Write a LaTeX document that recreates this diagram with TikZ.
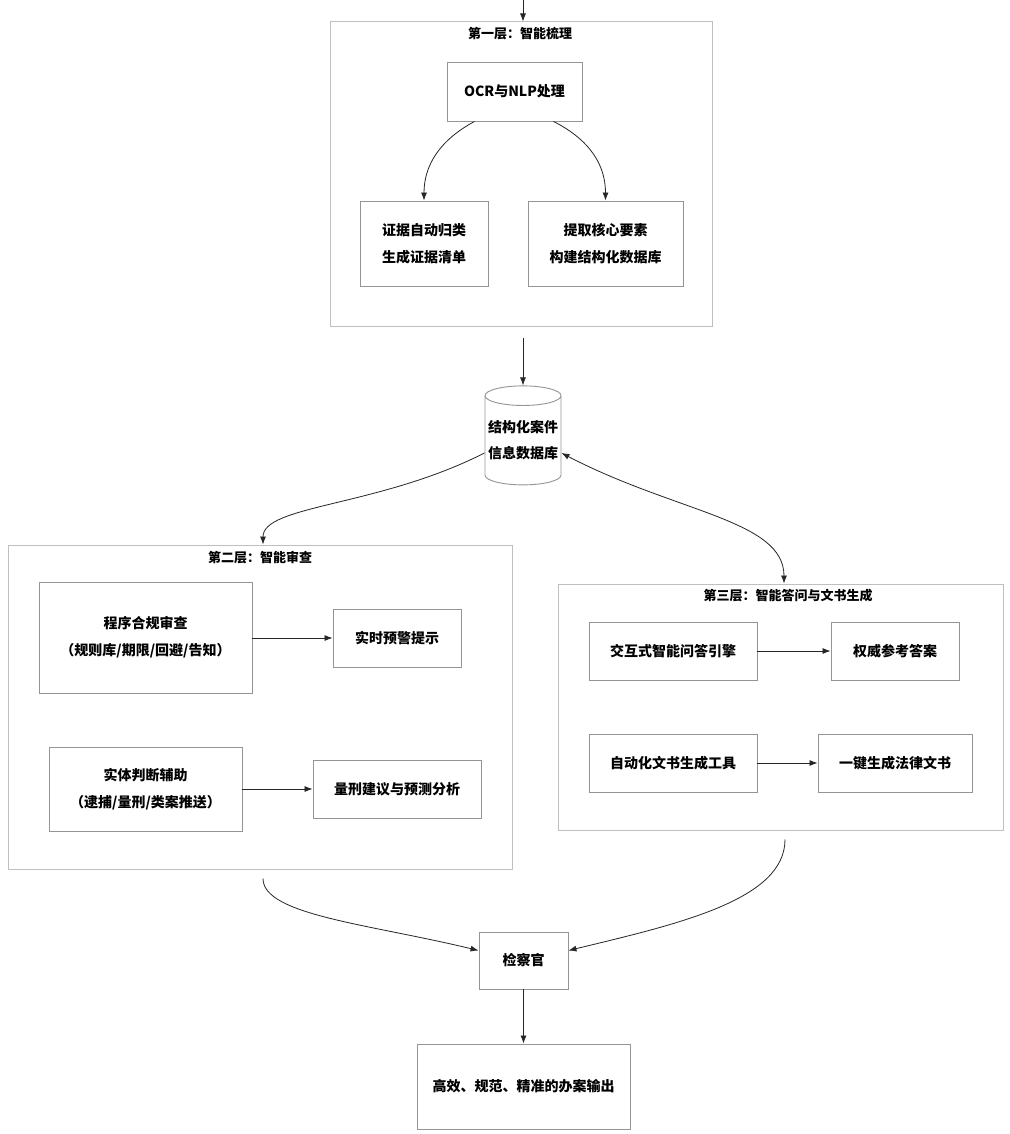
\documentclass[tikz,border=0pt]{standalone}
\usepackage{fontspec}
\setmainfont{Noto Sans CJK SC}
\usetikzlibrary{shapes.geometric,arrows.meta,calc}
\begin{document}
\begin{tikzpicture}[x=1pt,y=-1pt,
  framebox/.style={draw=black!25, line width=1pt, inner sep=0pt},
  ttl/.style={font=\bfseries\fontsize{13}{16}\selectfont, inner sep=0pt},
  box/.style={draw=black!42, line width=0.9pt, fill=white, align=center,
    font=\bfseries\fontsize{14}{27}\selectfont, inner sep=0pt},
  cyl/.style={cylinder, shape border rotate=90, draw=black!42, line width=0.9pt,
    aspect=0.28, minimum width=76pt, minimum height=99pt, inner sep=0pt,
    align=center, font=\bfseries\fontsize{14}{26}\selectfont},
  arr/.style={draw=black!85, line width=0.8pt, -{Latex[length=8pt,width=6pt]}},
  darr/.style={draw=black!85, line width=0.8pt, {Latex[length=8pt,width=6pt]}-{Latex[length=8pt,width=6pt]}}
]
\fill[white] (0,0) rectangle (1009,1134);
\useasboundingbox (0,0) rectangle (1009,1134);

% Layer 1
\node[framebox, minimum width=382pt, minimum height=304pt] (f1) at (521,174) {};
\node[ttl] (t1) at (520,34) {第一层：智能梳理};
\node[box, minimum width=135pt, minimum height=59pt] (ocr) at (514.5,91.5) {OCR与NLP处理};
\node[box, minimum width=128pt, minimum height=85pt] (ev) at (424,243.5) {证据自动归类\\生成证据清单};
\node[box, minimum width=155pt, minimum height=85pt] (ex) at (605.5,243.5) {提取核心要素\\构建结构化数据库};

% Database
\node[cyl] (db) at (523,440.5) {结构化案件\\信息数据库};

% Layer 2
\node[framebox, minimum width=504pt, minimum height=324pt] (f2) at (260,707) {};
\node[ttl] (t2) at (260,558) {第二层：智能审查};
\node[box, minimum width=213pt, minimum height=111pt] (pc) at (145.5,637.5) {程序合规审查\\（规则库/期限/回避/告知）};
\node[box, minimum width=128pt, minimum height=58pt] (rw) at (397,638) {实时预警提示};
\node[box, minimum width=193pt, minimum height=84pt] (sj) at (145.5,789) {实体判断辅助\\（逮捕/量刑/类案推送）};
\node[box, minimum width=168pt, minimum height=58pt] (lx) at (397,789) {量刑建议与预测分析};

% Layer 3
\node[framebox, minimum width=445pt, minimum height=246pt] (f3) at (780.5,707) {};
\node[ttl] (t3) at (788,596) {第三层：智能答问与文书生成};
\node[box, minimum width=168pt, minimum height=58pt] (qa) at (673,651) {交互式智能问答引擎};
\node[box, minimum width=128pt, minimum height=58pt] (ra) at (895,651) {权威参考答案};
\node[box, minimum width=168pt, minimum height=58pt] (ad) at (673,763) {自动化文书生成工具};
\node[box, minimum width=154pt, minimum height=58pt] (ld) at (895,763) {一键生成法律文书};

% Bottom
\node[box, minimum width=89pt, minimum height=57pt] (pr) at (523.5,960.5) {检察官};
\node[box, minimum width=213pt, minimum height=85pt] (out) at (523.5,1086.5) {高效、规范、精准的办案输出};

\coordinate (in) at (523,0);

% Connectors
\draw[arr] (in) -- (f1.north -| in);
\draw[arr] ([xshift=-40pt]ocr.south) .. controls (440,140) and (424,165) .. (ev.north);
\draw[arr] ([xshift=39pt]ocr.south) .. controls (590,140) and (605.5,165) .. (ex.north);
\draw[arr] ([yshift=-11pt]f1.south -| db.north) -- (db.north);
\draw[arr] (db.198) .. controls (378,507) and (263,505) .. (f2.north -| 263,0);
\draw[darr] (db.342) .. controls (677,513) and (784,520) .. (f3.north -| 784,0);
\draw[arr] (pc.east |- rw.west) -- (rw.west);
\draw[arr] (sj.east |- lx.west) -- (lx.west);
\draw[arr] (qa.east) -- (ra.west);
\draw[arr] (ad.east) -- (ld.west);
\draw[arr] ([yshift=-9pt]f2.south -| 263,0) .. controls (263,915) and (369,924) .. ([yshift=10pt]pr.west);
\draw[arr] ([yshift=-9pt]f3.south -| 785,0) .. controls (785,900) and (678,924) .. ([yshift=10pt]pr.east);
\draw[arr] (pr.south) -- (out.north);
\end{tikzpicture}
\end{document}
